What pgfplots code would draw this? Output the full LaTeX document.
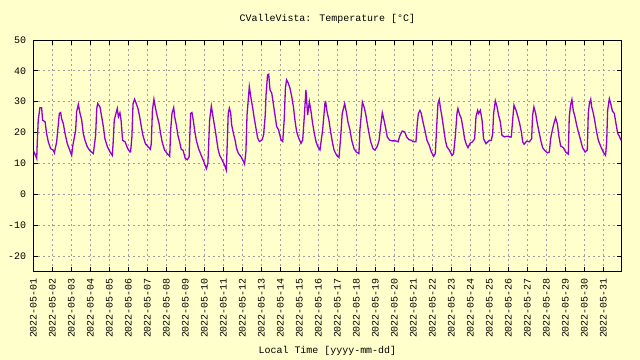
\documentclass[border=0pt]{standalone}
\usepackage{pgfplots}
\pgfplotsset{compat=1.18}
\usepackage{fontspec}
\setmainfont{Liberation Mono}
\definecolor{bgyel}{HTML}{FFFFCC}
\definecolor{dviolet}{HTML}{9400D3}
\begin{document}
\begin{tikzpicture}
\fill[bgyel] (-33.3bp,-88.6bp) rectangle (606.7bp,271.4bp);
\useasboundingbox (-33.3bp,-88.6bp) rectangle (606.7bp,271.4bp);
\begin{axis}[
  scale only axis, width=588.2bp, height=231.4bp,
  at={(0,0)}, anchor=south west,
  xmin=0, xmax=30.96, ymin=-25, ymax=50,
  xtick={0,...,30},
  xticklabels={2022-05-01,2022-05-02,2022-05-03,2022-05-04,2022-05-05,2022-05-06,2022-05-07,2022-05-08,2022-05-09,2022-05-10,2022-05-11,2022-05-12,2022-05-13,2022-05-14,2022-05-15,2022-05-16,2022-05-17,2022-05-18,2022-05-19,2022-05-20,2022-05-21,2022-05-22,2022-05-23,2022-05-24,2022-05-25,2022-05-26,2022-05-27,2022-05-28,2022-05-29,2022-05-30,2022-05-31},
  ytick={-20,-10,0,10,20,30,40,50},
  /pgf/number format/assume math mode=true,
  tick align=inside, major tick length=4.5bp,
  axis line style={line width=1bp},
  tick style={black, line width=0.8bp},
  grid=major,
  major grid style={gray!75, dash pattern=on 2bp off 3bp, line width=0.8bp},
  ticklabel style={font=\fontsize{10}{12}\selectfont},
  xticklabel style={rotate=90, anchor=east, inner sep=0pt},
  xticklabel shift=6.6bp,
  yticklabel style={anchor=east, inner sep=0pt},
  yticklabel shift=7bp,
  title={CValleVista: Temperature [°C]},
  title style={at={(axis description cs:0.5,1)}, anchor=center, yshift=15bp, font=\fontsize{10}{12}\selectfont},
  xlabel={Local Time [yyyy-mm-dd]},
  xlabel style={at={(axis description cs:0.5,0)}, anchor=center, yshift=-79.6bp, font=\fontsize{10}{12}\selectfont},
]
\addplot[dviolet, line width=1.3bp, sharp plot, no marks] coordinates {
(0,14) (0.04,13.7) (0.18,11.6) (0.21,17) (0.26,24) (0.35,28.1) (0.44,28) (0.49,24) (0.62,23.5) (0.70,19.7) (0.79,17) (0.91,14.8) (1.05,14.3) (1.11,13.4)
(1.23,17) (1.32,22.9) (1.37,26.2) (1.44,26.5) (1.49,24.5) (1.58,22.9) (1.67,19.7) (1.79,16.4) (1.90,14.6) (2.02,12.6)
(2.07,15.4) (2.23,20.8) (2.28,26.7) (2.37,29.1) (2.46,26.2) (2.55,24) (2.63,19.7) (2.72,17.5) (2.84,15.4) (2.98,14.1) (3.16,13.2)
(3.28,19.1) (3.34,27.8) (3.39,29.4) (3.51,28.3) (3.6,25.1) (3.69,21.8) (3.77,18) (3.9,15.4) (4.04,13.7) (4.16,12.6)
(4.21,17.5) (4.26,24) (4.35,26.2) (4.42,27.8) (4.48,25.1) (4.56,26.4) (4.62,24) (4.7,17.5) (4.83,17) (4.97,14.8) (5.09,13.7)
(5.12,13.7) (5.19,18.6) (5.25,29.4) (5.33,30.8) (5.42,29.4) (5.51,27.8) (5.6,25.1) (5.69,21.8) (5.77,19.1) (5.9,16.4) (6.04,15.4) (6.16,14.6)
(6.21,16.4) (6.27,27.2) (6.35,30.8) (6.42,28.3) (6.53,25.1) (6.62,22.9) (6.7,19.7) (6.78,17) (6.91,14.3) (7.05,13.2) (7.18,12.3)
(7.23,20.8) (7.3,26.2) (7.39,28.1) (7.44,25.1) (7.53,22.4) (7.61,19.1) (7.7,17) (7.79,14.5) (7.88,14.3) (8.0,11.6) (8.11,11.2)
(8.2,12.1) (8.28,26.2) (8.35,26.5) (8.42,24) (8.49,20.8) (8.58,17.5) (8.7,14.8) (8.84,12.6) (8.98,10.5) (9.11,8.3)
(9.19,10) (9.28,24) (9.37,28.6) (9.46,25.1) (9.55,21.8) (9.63,18.6) (9.72,14.8) (9.81,12.6) (9.9,11.6) (10.07,9.4) (10.16,7.8)
(10.2,14.9) (10.26,26.3) (10.32,27.9) (10.39,26.3) (10.44,22.5) (10.53,19.8) (10.62,17.6) (10.7,14.9) (10.79,13.3) (10.93,12.2) (11.07,10.6) (11.12,9.8)
(11.19,13.8) (11.25,25.7) (11.32,31.1) (11.37,34.9) (11.46,31.1) (11.55,27.9) (11.63,24.6) (11.72,21.4) (11.81,18.2) (11.9,17.1) (12.04,17.6) (12.12,19.2)
(12.21,25.7) (12.25,32.2) (12.33,38.7) (12.39,38.9) (12.46,33.8) (12.55,32.8) (12.63,29.5) (12.72,25.7) (12.81,21.9) (12.91,20.9) (13.04,17.6) (13.13,17.1)
(13.21,24.6) (13.27,34.4) (13.33,37.1) (13.42,36) (13.51,34.4) (13.6,31.7) (13.69,28.4) (13.77,24.1) (13.86,20.3) (13.97,18.2) (14.09,16.5) (14.18,17.6)
(14.27,25.7) (14.35,33.8) (14.44,25.7) (14.53,30) (14.62,26.8) (14.7,23) (14.79,19.8) (14.88,17.1) (14.97,15.5) (15.09,14.4) (15.23,20.9) (15.35,29.5)
(15.39,29.9) (15.46,26.8) (15.56,24) (15.65,20.2) (15.74,17) (15.83,14.3) (15.97,12.6) (16.09,11.9)
(16.18,18.6) (16.26,26.2) (16.39,29.4) (16.49,26.2) (16.56,23.5) (16.67,20.8) (16.76,17.5) (16.88,14.8) (17.0,13.7) (17.14,13.2)
(17.19,20.8) (17.27,26.2) (17.32,29.9) (17.41,28.3) (17.49,26.2) (17.58,22.9) (17.67,19.7) (17.76,17) (17.88,14.8) (17.98,14.3) (18.11,15.6)
(18.2,17.5) (18.28,21.8) (18.37,26.4) (18.46,24) (18.55,21.3) (18.63,18.6) (18.76,17.5) (18.9,17.3) (19.07,17.3) (19.2,17)
(19.3,19.1) (19.42,20.5) (19.55,20.2) (19.65,18.6) (19.77,17.7) (19.9,17.5) (20.0,17) (20.14,17)
(20.21,22.9) (20.27,26.2) (20.35,27.2) (20.42,26.2) (20.49,24) (20.63,20.2) (20.72,17.5) (20.84,15.9) (20.95,13.7) (21.07,12.3) (21.16,13.2)
(21.25,24) (21.3,29.4) (21.37,30.7) (21.42,28.3) (21.51,25.1) (21.6,21.3) (21.69,17.5) (21.77,15.4) (21.9,14.3) (22.04,12.6) (22.12,13.2)
(22.21,18.6) (22.3,26.2) (22.35,27.8) (22.42,26.2) (22.53,24.5) (22.62,21.3) (22.7,18) (22.79,16.2) (22.88,15.1) (23.0,16.6) (23.12,17) (23.23,18)
(23.3,25.1) (23.39,27.2) (23.44,26.2) (23.53,27.2) (23.62,24) (23.7,18) (23.83,16.4) (23.97,17.3) (24.11,17.5) (24.18,19.7)
(24.23,26.2) (24.32,30.3) (24.41,28.3) (24.49,25.6) (24.58,23.5) (24.67,19.1) (24.79,18.6) (24.93,18.8) (25.05,18.6) (25.16,18.6)
(25.23,24) (25.3,28.9) (25.41,27.2) (25.51,25.1) (25.6,22.9) (25.69,20.2) (25.76,17) (25.83,16.2) (25.97,17.2) (26.11,17) (26.23,18)
(26.28,25.6) (26.35,28.3) (26.44,26.2) (26.53,22.9) (26.62,20.2) (26.71,17.5) (26.81,15.1) (26.93,14.1) (27.07,13.4) (27.16,13.7)
(27.23,18) (27.32,20.8) (27.41,23.1) (27.49,24.8) (27.58,22.9) (27.67,18.6) (27.76,15.6) (27.9,15.1) (28.02,13.7) (28.16,13)
(28.21,25.1) (28.28,28.9) (28.35,30.7) (28.42,27.2) (28.51,25.1) (28.6,22.4) (28.69,20.2) (28.81,17.5) (28.91,15.1) (29.04,13.7) (29.16,14.3)
(29.21,26.2) (29.27,29.4) (29.34,30.8) (29.39,28.3) (29.48,26.2) (29.56,23.5) (29.65,20.2) (29.74,17.5) (29.86,15.6) (30.0,13.7) (30.12,12.6)
(30.18,17) (30.23,27.2) (30.32,31) (30.39,29.4) (30.48,27) (30.58,26.2) (30.67,22.9) (30.76,19.7) (30.85,18.8) (30.93,17.5)
};
\end{axis}
\end{tikzpicture}
\end{document}
